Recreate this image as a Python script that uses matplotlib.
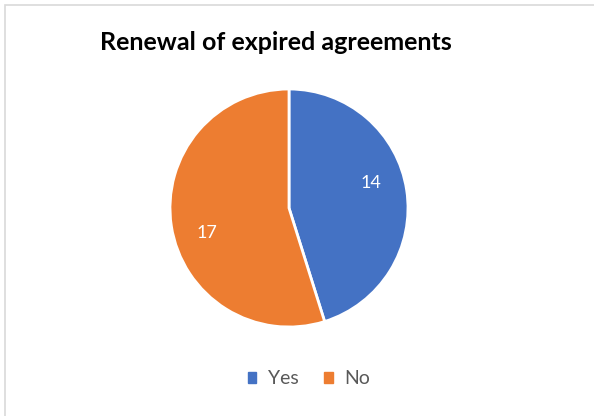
import numpy as np
import matplotlib.pyplot as plt
from matplotlib.patches import Rectangle

labels = ["Yes", "No"]
values = [14, 17]
colors = ["#4472C4", "#ED7D31"]

plt.rcParams['font.family'] = ['Lato', 'DejaVu Sans']

fig = plt.figure(figsize=(5.94, 4.16), dpi=100)
W, H = 594, 416

# chart area border
fig.patches.append(Rectangle((5 / W, -0.1), 1.2, 1 - 5 / H + 0.1, transform=fig.transFigure,
                             fill=False, edgecolor="#D9D9D9", linewidth=1.2))

cx, cy, r = 289, 208, 119
ax = fig.add_axes([(cx - r) / W, (H - cy - r) / H, 2 * r / W, 2 * r / H])
wedges, _ = ax.pie(values, colors=colors, startangle=90, counterclock=False,
                   wedgeprops=dict(edgecolor="white", linewidth=2))
ax.set_xlim(-1, 1)
ax.set_ylim(-1, 1)
ax.set_aspect("equal")

for w, v in zip(wedges, values):
    ang = np.deg2rad((w.theta1 + w.theta2) / 2 + 8)
    ax.text(0.72 * np.cos(ang), 0.72 * np.sin(ang), str(v), ha="center", va="center",
            color="white", fontsize=13)

fig.text(276 / W, 1 - 43 / H, "Renewal of expired agreements", ha="center", va="center",
         fontsize=18, fontweight="bold", color="black")

handles = [plt.Rectangle((0, 0), 1, 1, color=c) for c in colors]
fig.legend(handles, labels, loc="center", bbox_to_anchor=(309 / W, 1 - 379 / H), ncol=2,
           frameon=False, fontsize=14, handlelength=0.45, handleheight=0.45,
           handletextpad=0.6, columnspacing=1.3, labelcolor="#595959")

fig.savefig("out.png", dpi=100)
